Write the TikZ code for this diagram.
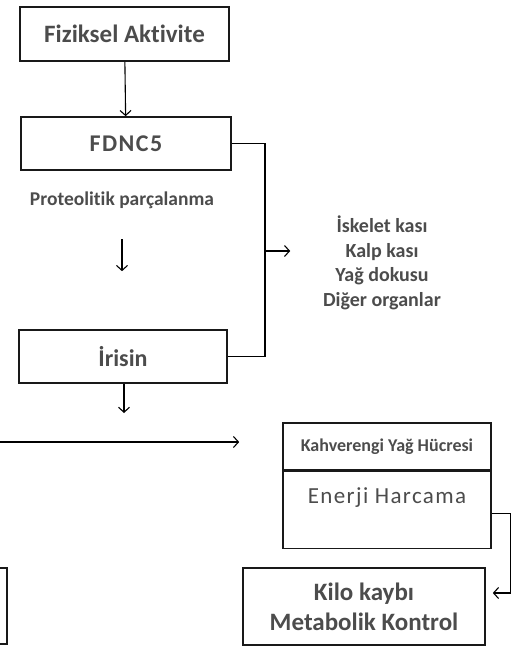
\documentclass[tikz,border=0pt]{standalone}
\usepackage{fontspec}
\setmainfont{Carlito}[Ligatures=NoCommon]
\usetikzlibrary{arrows.meta,positioning}

\begin{document}
\begin{tikzpicture}[x=1pt,y=-1pt,>={Straight Barb[length=5pt,width=11pt]},line width=1.1pt,
  box/.style={draw=black!90,line width=1.6pt,text=black!70,font=\bfseries\fontsize{25}{28}\selectfont,inner sep=0pt},
  txt/.style={text=black!70,align=center}]
  \useasboundingbox (0,0) rectangle (523,650);
  \clip (0,0) rectangle (523,650);

  \node [box,minimum width=209pt,minimum height=54pt] (act) at (124.5,34) {Fiziksel Aktivite};
  \node [box,minimum width=210pt,minimum height=53pt,font=\bfseries\fontsize{24}{28}\selectfont\addfontfeature{LetterSpace=6}] (fdnc) at (126,143.5) {FDNC5};
  \node [txt,font=\bfseries\fontsize{19.5}{22}\selectfont] (prot) at (122,200) {Proteolitik parçalanma};
  \node [box,minimum width=208pt,minimum height=53pt,font=\bfseries\fontsize{24}{28}\selectfont] (iris) at (123,356.5) {İrisin};
  \node [txt,font=\bfseries\fontsize{20}{24.5}\selectfont] (organs) at (382,263) {İskelet kası\\Kalp kası\\Yağ dokusu\\Diğer organlar};

  \node [box,minimum width=208pt,minimum height=47pt,font=\bfseries\fontsize{18}{20}\selectfont] (brown) at (387,446.5) {Kahverengi Yağ Hücresi};
  \node [box,minimum width=208pt,text height=28pt,text depth=41pt,inner ysep=4pt,below=0pt of brown,
    font=\fontsize{23}{28}\selectfont\addfontfeature{LetterSpace=6}] (energy) {Enerji Harcama};
  \node [box,minimum width=242pt,minimum height=77pt,align=center,font=\bfseries\fontsize{25}{30}\selectfont] (kilo) at (364,606.5) {Kilo kaybı\\Metabolik Kontrol};
  \node [box,minimum width=200pt,minimum height=76pt] (left) at (-93,606) {};

  \coordinate (bar) at (265,251);
  \coordinate (irisend) at (124,413);
  \coordinate (start) at (-20,442);

  \draw[->] (act) -- (fdnc);
  \draw[->,shorten <=27pt,shorten >=58pt] (prot) -- (prot |- iris.north);
  \draw (fdnc.east) -| (bar) |- (iris.east);
  \draw[->,shorten >=29pt] (bar) -- (organs.west |- bar);
  \draw[->] (iris.south -| irisend) -- (irisend);
  \draw[->,shorten >=43pt] (start) -- (start -| brown.west);
  \draw[->,shorten >=7pt] ([yshift=-3.5pt]energy.east) -- ++(19,0) |- ([yshift=13.5pt]kilo.east);
\end{tikzpicture}
\end{document}
